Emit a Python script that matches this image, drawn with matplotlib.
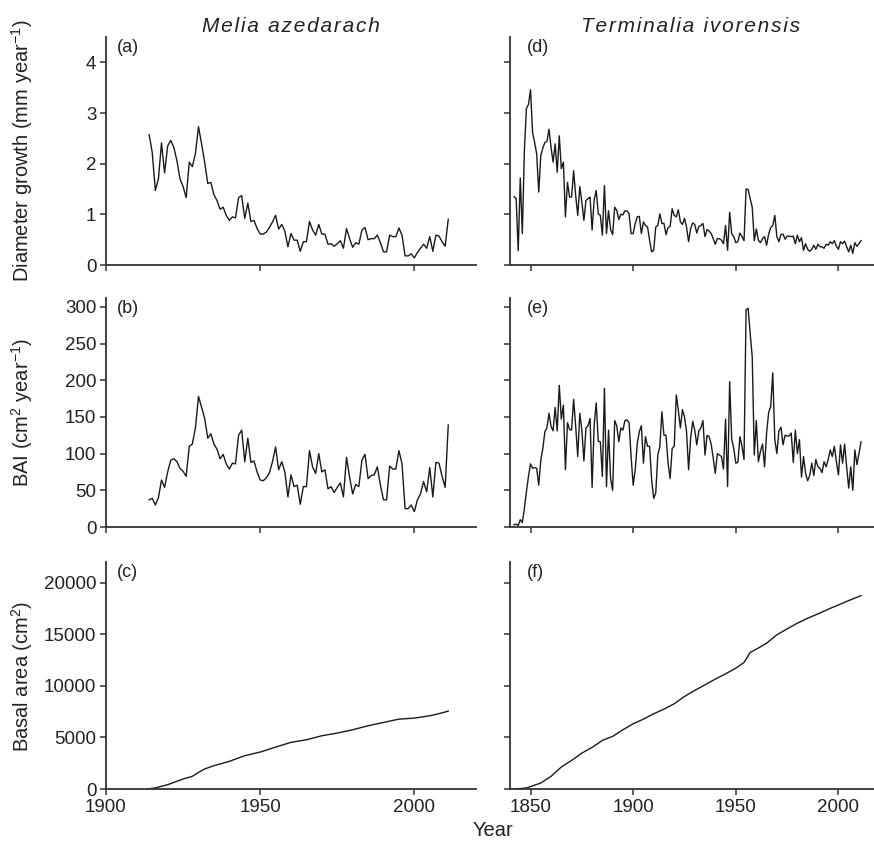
# Tree growth of Melia azedarach and Terminalia ivorensis: diameter growth, BAI, basal area
import numpy as np
import matplotlib
matplotlib.use("Agg")
import matplotlib.pyplot as plt

plt.rcParams['font.family'] = ['Liberation Sans', 'DejaVu Sans']
plt.rcParams['mathtext.fontset'] = 'custom'
plt.rcParams['mathtext.rm'] = 'Liberation Sans'
plt.rcParams['mathtext.it'] = 'Liberation Sans:italic'

# ---- Melia azedarach (1914-2011) ----
melia_start = 1914
melia_diam = [2.57, 2.22, 1.47, 1.70, 2.41, 1.82, 2.35, 2.46, 2.32, 2.06,
              1.70, 1.55, 1.33, 2.03, 1.94, 2.20, 2.73, 2.39, 2.03, 1.61,
              1.63, 1.39, 1.27, 1.10, 1.14, 0.98, 0.88, 0.95, 0.93, 1.33,
              1.37, 0.92, 1.22, 0.86, 0.88, 0.72, 0.61, 0.61, 0.65, 0.74,
              0.85, 0.98, 0.71, 0.80, 0.67, 0.36, 0.62, 0.49, 0.49, 0.27,
              0.46, 0.46, 0.86, 0.69, 0.59, 0.80, 0.61, 0.61, 0.41, 0.42,
              0.37, 0.42, 0.48, 0.33, 0.72, 0.52, 0.35, 0.44, 0.41, 0.69,
              0.74, 0.50, 0.52, 0.52, 0.59, 0.44, 0.26, 0.26, 0.59, 0.56,
              0.56, 0.73, 0.59, 0.18, 0.18, 0.22, 0.14, 0.25, 0.33, 0.41,
              0.33, 0.56, 0.27, 0.59, 0.57, 0.46, 0.37, 0.90]
melia_bai = [37, 39, 30, 40, 64, 54, 75, 91, 93, 89,
             80, 76, 69, 110, 113, 135, 178, 163, 148, 121,
             127, 113, 106, 93, 99, 86, 79, 87, 86, 125,
             132, 89, 121, 88, 90, 75, 64, 63, 67, 74,
             89, 109, 78, 89, 75, 41, 71, 55, 57, 31,
             55, 55, 104, 82, 73, 100, 75, 78, 52, 55,
             47, 54, 60, 41, 95, 68, 45, 58, 55, 91,
             99, 66, 70, 71, 82, 57, 37, 37, 83, 79,
             79, 104, 86, 25, 25, 30, 21, 37, 45, 62,
             48, 81, 41, 88, 87, 69, 54, 139]
melia_ba_years = [1913, 1916, 1920, 1925, 1928, 1930, 1932, 1935, 1940, 1945,
                  1950, 1955, 1960, 1965, 1970, 1975, 1980, 1985, 1990, 1995,
                  2000, 2005, 2008, 2011]
melia_ba = [0, 100, 420, 970, 1230, 1610, 1940, 2260, 2680, 3230,
            3580, 4060, 4520, 4770, 5160, 5420, 5740, 6130, 6450, 6770,
            6870, 7100, 7300, 7550]

# ---- Terminalia ivorensis (1842-2011) ----
term_start = 1842
term_diam = [1.35, 1.31, 0.28, 1.72, 0.62, 2.25, 3.09, 3.17, 3.46, 2.61,
             2.42, 2.19, 1.44, 2.16, 2.31, 2.42, 2.44, 2.68, 2.32, 2.03,
             2.39, 1.83, 2.55, 1.90, 2.03, 0.95, 1.63, 1.34, 1.34, 1.86,
             1.37, 0.98, 1.55, 1.24, 0.88, 1.27, 1.31, 1.34, 0.69, 1.29,
             1.47, 1.01, 0.98, 0.59, 1.57, 0.62, 1.07, 0.70, 0.60, 1.14,
             1.08, 0.90, 1.00, 0.99, 1.07, 1.07, 1.01, 0.62, 0.62, 0.82,
             0.95, 0.96, 0.62, 0.85, 0.78, 0.75, 0.49, 0.26, 0.29, 0.75,
             0.78, 1.01, 0.82, 0.82, 0.60, 0.74, 0.76, 1.11, 0.98, 0.95,
             1.09, 0.85, 0.80, 0.92, 0.75, 0.46, 0.72, 0.83, 0.80, 0.63,
             0.76, 0.78, 0.82, 0.56, 0.70, 0.67, 0.62, 0.52, 0.41, 0.52,
             0.52, 0.49, 0.42, 0.78, 0.29, 1.04, 0.62, 0.56, 0.44, 0.46,
             0.63, 0.56, 0.48, 1.50, 1.49, 1.31, 1.14, 0.48, 0.71, 0.49,
             0.44, 0.52, 0.56, 0.39, 0.61, 0.74, 0.78, 0.98, 0.56, 0.46,
             0.60, 0.61, 0.51, 0.57, 0.57, 0.56, 0.57, 0.42, 0.59, 0.46,
             0.54, 0.29, 0.42, 0.31, 0.27, 0.31, 0.39, 0.31, 0.41, 0.36,
             0.36, 0.33, 0.41, 0.39, 0.46, 0.42, 0.48, 0.37, 0.31, 0.46,
             0.42, 0.47, 0.36, 0.26, 0.39, 0.23, 0.44, 0.37, 0.42, 0.48]
term_bai = [3, 4, 2, 10, 6, 25, 48, 69, 86, 80,
            81, 80, 57, 91, 107, 130, 135, 155, 137, 131,
            163, 131, 193, 147, 166, 78, 142, 133, 132, 174,
            137, 96, 155, 132, 90, 135, 138, 148, 54, 139,
            169, 117, 116, 69, 189, 55, 132, 66, 50, 145,
            138, 116, 135, 132, 145, 146, 142, 96, 57, 78,
            114, 130, 138, 87, 123, 110, 110, 64, 39, 46,
            98, 110, 157, 125, 125, 87, 66, 107, 110, 180,
            159, 135, 160, 150, 130, 78, 121, 144, 132, 112,
            131, 135, 145, 98, 125, 123, 113, 94, 73, 100,
            98, 96, 79, 147, 55, 198, 120, 107, 87, 88,
            123, 110, 92, 296, 298, 264, 232, 98, 145, 89,
            103, 113, 82, 128, 156, 164, 210, 119, 100, 131,
            136, 112, 125, 124, 124, 128, 88, 132, 100, 119,
            68, 96, 73, 63, 70, 87, 70, 92, 82, 80,
            74, 89, 82, 92, 105, 96, 110, 89, 71, 112,
            87, 113, 82, 53, 82, 50, 105, 85, 100, 116]
term_ba_years = [1842, 1848, 1855, 1860, 1865, 1870, 1875, 1880, 1885, 1890,
                 1895, 1900, 1905, 1910, 1915, 1920, 1925, 1930, 1935, 1940,
                 1945, 1950, 1954, 1957, 1960, 1965, 1970, 1975, 1980, 1985,
                 1990, 1995, 2000, 2005, 2011]
term_ba = [0, 100, 580, 1230, 2130, 2770, 3480, 4030, 4710, 5100,
           5740, 6320, 6770, 7290, 7740, 8260, 8970, 9550, 10100, 10650,
           11160, 11710, 12260, 13230, 13550, 14130, 14940, 15520, 16070, 16550,
           16970, 17420, 17840, 18260, 18740]

melia_years = np.arange(melia_start, melia_start + len(melia_diam))
term_years = np.arange(term_start, term_start + len(term_diam))

line_col = '#1a1a1a'
spine_col = '#333333'
text_col = '#222222'

W, H = 874, 841
fig = plt.figure(figsize=(W / 100, H / 100), dpi=100)


def make_ax(left_px, top_px, right_px, bottom_px):
    return fig.add_axes([left_px / W, 1 - bottom_px / H,
                         (right_px - left_px) / W, (bottom_px - top_px) / H])


rows = [(37, 265), (298, 527), (562, 789)]
axes = []
for top, bot in rows:
    axL = make_ax(106, top, 476, bot)
    axR = make_ax(510, top, 879.5, bot)
    axes.append((axL, axR))

for i, (axL, axR) in enumerate(axes):
    for ax in (axL, axR):
        for s in ('top', 'right'):
            ax.spines[s].set_visible(False)
        for s in ('left', 'bottom'):
            ax.spines[s].set_color(spine_col)
            ax.spines[s].set_linewidth(1.3)
        ax.tick_params(direction='out', length=4, width=1.1, colors=spine_col,
                       labelsize=13.5, labelcolor=text_col, pad=3)
    axL.set_xlim(1900, 2020)
    axL.set_xticks([1900, 1950, 2000])
    axR.set_xlim(1840, 2020)
    axR.set_xticks([1850, 1900, 1950, 2000])
    axR.tick_params(labelleft=False)
    if i < 2:
        axL.tick_params(labelbottom=False)
        axR.tick_params(labelbottom=False)

# row 1: diameter growth
a, d = axes[0]
a.plot(melia_years, melia_diam, color=line_col, lw=1.0)
d.plot(term_years, term_diam, color=line_col, lw=1.0)
for ax in (a, d):
    ax.set_ylim(0, 4.5)
    ax.set_yticks([0, 1, 2, 3, 4])

# row 2: BAI
b, e = axes[1]
b.plot(melia_years, melia_bai, color=line_col, lw=1.0)
e.plot(term_years, term_bai, color=line_col, lw=1.0)
for ax in (b, e):
    ax.set_ylim(0, 312)
    ax.set_yticks([0, 50, 100, 150, 200, 250, 300])

# row 3: basal area
c, f = axes[2]
c.plot(melia_ba_years, melia_ba, color=line_col, lw=1.0)
f.plot(term_ba_years, term_ba, color=line_col, lw=1.0)
for ax in (c, f):
    ax.set_ylim(0, 22000)
    ax.set_yticks([0, 5000, 10000, 15000, 20000])

# panel letters
for (axL, axR), (lL, lR) in zip(axes, [('(a)', '(d)'), ('(b)', '(e)'), ('(c)', '(f)')]):
    axL.text(0.03, 0.955, lL, transform=axL.transAxes, fontsize=13,
             color=text_col, va='center', ha='left')
    axR.text(0.045, 0.955, lR, transform=axR.transAxes, fontsize=13,
             color=text_col, va='center', ha='left')

# species titles with loose letter spacing
hs = '\u200a'
fig.text(291 / W, 1 - 26 / H, hs.join('Melia azedarach'), fontsize=15,
         style='italic', color=text_col, ha='center', va='center')
fig.text(691 / W, 1 - 26 / H, hs.join('Terminalia ivorensis'), fontsize=15,
         style='italic', color=text_col, ha='center', va='center')

# axis labels
fig.text(22 / W, 1 - 151 / H, 'Diameter growth (mm year$^{-1}$)', rotation=90,
         fontsize=14.5, color=text_col, ha='center', va='center')
fig.text(22 / W, 1 - 412 / H, 'BAI (cm$^{2}$ year$^{-1}$)', rotation=90,
         fontsize=14.5, color=text_col, ha='center', va='center')
fig.text(22 / W, 1 - 676 / H, 'Basal area (cm$^{2}$)', rotation=90,
         fontsize=14.5, color=text_col, ha='center', va='center')
fig.text(493 / W, 1 - 830 / H, 'Year', fontsize=14.5, color=text_col,
         ha='center', va='center')

fig.savefig('out.png', dpi=100)
